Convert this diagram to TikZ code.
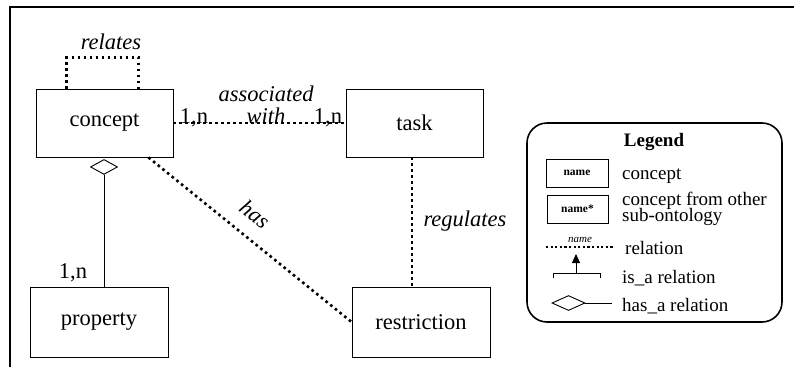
\documentclass[tikz,border=0pt]{standalone}
\usepackage{fontspec}
\setmainfont{Liberation Serif}
\usetikzlibrary{shapes.geometric,arrows.meta}
\begin{document}
\begin{tikzpicture}[x=1pt,y=-1pt,
  big/.style={font=\fontsize{22.5}{24}\selectfont},
  leg/.style={font=\fontsize{19}{13}\selectfont},
  entity/.style={draw,line width=0.9pt,rectangle,inner sep=0pt,big},
  rel/.style={line width=2.6pt,dash pattern=on 2.6pt off 3.4pt},
  lbl/.style={big,inner sep=0pt,anchor=base},
  ilbl/.style={lbl,font=\fontsize{22.5}{24}\selectfont\itshape},
  legtxt/.style={leg,inner sep=0pt,anchor=base west,align=left},
  hasa/.style={draw,diamond,aspect=1.8,inner sep=0pt,line width=0.9pt,fill=white},
  thin/.style={line width=0.9pt}]
\useasboundingbox (0,0) rectangle (794,367);
\fill[white] (0,0) rectangle (794,367);
% outer frame (top and left edges)
\draw[line width=2.2pt] (794,7) -- (10,7) -- (10,367);

% concepts
\node[entity,minimum width=137pt,minimum height=68pt] (concept) at (104.5,123) {concept};
\node[entity,minimum width=137pt,minimum height=68pt] (task) at (414.5,123) {task};
\node[entity,minimum width=138pt,minimum height=70pt] (property) at (99,322) {property};
\node[entity,minimum width=138pt,minimum height=70pt] (restriction) at (421,322) {restriction};

% relates (self relation)
\draw[rel] ([xshift=31pt]concept.north west) -- ++(0,-31) -| ([xshift=103pt]concept.north west);
\node[ilbl] (relates) at (111,49) {relates};

% associated with
\draw[rel] (concept.east) -- (task.west);
\node[lbl] (c1) at (194,123) {1,n};
\node[lbl] (c2) at (328,123) {1,n};
\node[ilbl] (assoc) at (266,101) {associated};
\node[ilbl] (with) at (266,123) {with};

% regulates
\draw[rel] ([xshift=-2.5pt]task.south) -- ([xshift=-2.5pt]task.south |- restriction.north);
\node[ilbl] (regulates) at (465,226) {regulates};

% has
\draw[rel] ([xshift=-25pt]concept.south east) -- (restriction.west);
\node[ilbl,anchor=center,rotate=-38.5] (has) at (255,214) {has};

% has_a (concept - property)
\node[hasa,minimum width=27pt,minimum height=15pt,anchor=north] (dia) at (104,159) {};
\draw[thin] (dia.south) -- (dia.south |- property.north);
\node[lbl] (p1) at (73,278) {1,n};

% legend
\draw[line width=1.6pt,rounded corners=20pt] (527,123) rectangle (782,322);
\node[leg,font=\fontsize{19}{13}\selectfont\bfseries,inner sep=0pt,anchor=base] (legend) at (654,146) {Legend};

\node[draw,thin,minimum width=62pt,minimum height=28pt,inner sep=0pt,font=\fontsize{11.5}{12}\selectfont\bfseries] (lname) at (577,173) {name};
\node[legtxt] (lconcept) at (622,179) {concept};

\node[draw,thin,minimum width=61pt,minimum height=28pt,inner sep=0pt,font=\fontsize{11.5}{12}\selectfont\bfseries] (lname2) at (577.5,209) {name*};
\node[legtxt] (lother) at (622,205) {concept from other};
\node[legtxt] (lsub) at (622,221) {sub-ontology};

\coordinate (r1) at (546,247);
\coordinate (r2) at (614,247);
\draw[line width=2.2pt,dash pattern=on 2.2pt off 2.4pt] (r1) -- (r2);
\node[inner sep=0pt,anchor=base,font=\fontsize{11}{12}\selectfont\itshape] (rname) at (580,242) {name};
\node[legtxt] (lrel) at (625,254) {relation};

\coordinate (b1) at (553,278);
\coordinate (b2) at (600,278);
\coordinate (a0) at (576,273);
\draw[thin] (b1) -- ++(0,-5) -- ([yshift=5pt]b2) -- (b2);
\draw[thin,-{Triangle[length=9pt,width=8pt]}] (a0) -- ++(0,-19);
\node[legtxt] (lisa) at (622,283) {is\_a relation};

\node[hasa,minimum width=33pt,minimum height=15pt] (ldia) at (568.5,303) {};
\coordinate (h2) at (612,303);
\draw[thin] (ldia.east) -- (h2);
\node[legtxt] (lhasa) at (622,311) {has\_a relation};
\end{tikzpicture}
\end{document}
